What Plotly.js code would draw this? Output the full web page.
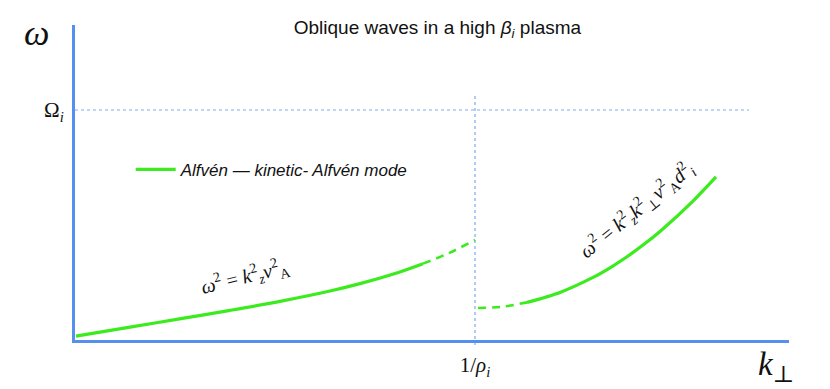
<!DOCTYPE html>
<html>
<head>
<meta charset="utf-8">
<script src="https://cdn.plot.ly/plotly-3.0.1.min.js"></script>
<style>html,body{margin:0;padding:0;background:#fff;}#chart{width:830px;height:389px;}</style>
</head>
<body>
<div id="chart"></div>
<script>
// Alfvén branch (k_perp < 1/rho_i), solid part
const alfvenX = [0.0025, 0.1375, 0.2725, 0.3875, 0.5125, 0.6375, 0.7125, 0.80, 0.87];
const alfvenY = [0.017, 0.056, 0.095, 0.129, 0.168, 0.213, 0.245, 0.289, 0.332];
// Alfvén branch, dashed continuation up to 1/rho_i
const alfvenDashX = [0.87, 0.935, 1.0];
const alfvenDashY = [0.332, 0.378, 0.435];
// kinetic-Alfvén branch, dashed start after 1/rho_i
const kawDashX = [1.0075, 1.07, 1.13];
const kawDashY = [0.139, 0.145, 0.1635];
// kinetic-Alfvén branch, solid part
const kawX = [1.13, 1.2125, 1.295, 1.3375, 1.38, 1.4225, 1.4625, 1.545, 1.6025];
const kawY = [0.1635, 0.207, 0.272, 0.314, 0.362, 0.416, 0.472, 0.604, 0.709];
// tick labels
const xTickVals = [1];
const xTickText = ['1/<i>ρ</i><sub><i>i</i></sub>'];
const yTickVals = [1];
const yTickText = ['Ω<sub><i>i</i></sub>'];
const legendName = '<i>Alfvén — kinetic- Alfvén mode</i>';

const green = '#3CEB1E';
const axisBlue = '#5590EE';
const dotBlue = '#7EA9F2';
const mathFont = 'Liberation Serif, DejaVu Serif, serif';
const textFont = 'Liberation Sans, Arial, sans-serif';

const traces = [
  {x: alfvenX, y: alfvenY, mode: 'lines', line: {color: green, width: 3.2, shape: 'spline', smoothing: 0.8}, name: legendName, showlegend: true, hoverinfo: 'skip'},
  {x: alfvenDashX, y: alfvenDashY, mode: 'lines', line: {color: green, width: 2.6, dash: '8px,6px', shape: 'spline', smoothing: 0.8}, showlegend: false, hoverinfo: 'skip'},
  {x: kawDashX, y: kawDashY, mode: 'lines', line: {color: green, width: 2.6, dash: '8px,6px', shape: 'spline', smoothing: 0.8}, showlegend: false, hoverinfo: 'skip'},
  {x: kawX, y: kawY, mode: 'lines', line: {color: green, width: 3.2, shape: 'spline', smoothing: 0.8}, showlegend: false, hoverinfo: 'skip'}
];

const layout = {
  width: 830, height: 389,
  margin: {l: 75, r: 41, t: 25, b: 49},
  paper_bgcolor: '#fff', plot_bgcolor: '#fff',
  title: {
    text: 'Oblique waves in a high <i>β</i><sub><i>i</i></sub> plasma',
    font: {family: textFont, size: 19, color: '#111'},
    xref: 'container', yref: 'container', x: 0.527, y: 0.93, xanchor: 'center', yanchor: 'middle'
  },
  xaxis: {
    range: [0, 1.785], showgrid: false, zeroline: false,
    showline: true, linecolor: axisBlue, linewidth: 3,
    tickmode: 'array', tickvals: xTickVals, ticktext: xTickText,
    ticks: '', tickfont: {family: mathFont, size: 21, color: '#111'},
    ticklabelstandoff: 4, fixedrange: true
  },
  yaxis: {
    range: [0, 1.3696], showgrid: false, zeroline: false,
    showline: true, linecolor: axisBlue, linewidth: 3,
    tickmode: 'array', tickvals: yTickVals, ticktext: yTickText,
    ticks: '', tickfont: {family: mathFont, size: 21, color: '#111'},
    ticklabelstandoff: 4, fixedrange: true
  },
  showlegend: true,
  legend: {
    x: 0.078, y: 0.54, xanchor: 'left', yanchor: 'middle',
    bgcolor: 'rgba(0,0,0,0)', font: {family: textFont, size: 17, color: '#111'},
    itemwidth: 40
  },
  shapes: [
    {type: 'line', xref: 'x', yref: 'y', x0: 0, x1: 1.685, y0: 1, y1: 1, line: {color: dotBlue, width: 1.2, dash: 'dot'}, layer: 'below'},
    {type: 'line', xref: 'x', yref: 'paper', x0: 1, x1: 1, y0: -0.016, y1: 0.784, line: {color: dotBlue, width: 1.2, dash: 'dot'}, layer: 'below'}
  ],
  annotations: [
    {text: '<i>ω</i>', xref: 'paper', yref: 'paper', x: -0.054, y: 0.975, showarrow: false, font: {family: mathFont, size: 36, color: '#111'}, xanchor: 'center', yanchor: 'middle'},
    {text: '<i>k</i><sub>⊥</sub>', xref: 'paper', yref: 'paper', x: 0.982, y: -0.085, showarrow: false, font: {family: mathFont, size: 33, color: '#111'}, xanchor: 'center', yanchor: 'middle'},
    {text: '<i>ω</i><sup>2</sup> = <i>k</i><sup>2</sup><sub><i>z</i></sub><i>v</i><sup>2</sup><sub>A</sub>', xref: 'x', yref: 'y', x: 0.425, y: 0.275, showarrow: false, textangle: -14, font: {family: mathFont, size: 20, color: '#111'}},
    {text: '<i>ω</i><sup>2</sup> = <i>k</i><sup>2</sup><sub><i>z</i></sub><i>k</i><sup>2</sup><sub>⊥</sub><i>v</i><sup>2</sup><sub>A</sub><i>d</i><sup>2</sup><sub><i>i</i></sub>', xref: 'x', yref: 'y', x: 1.405, y: 0.565, showarrow: false, textangle: -39, font: {family: mathFont, size: 20, color: '#111'}}
  ]
};

Plotly.newPlot('chart', traces, layout, {staticPlot: true, displayModeBar: false});
</script>
</body>
</html>
